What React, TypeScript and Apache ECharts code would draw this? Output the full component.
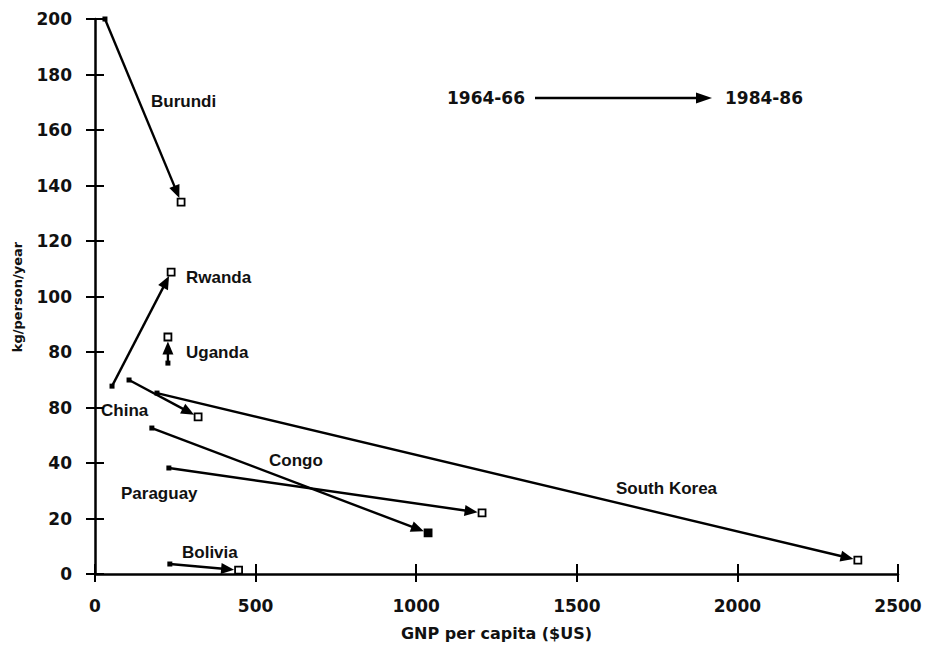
import React, { useEffect, useRef } from "react";
import * as echarts from "echarts";

// ---- data ----
const countries = ["Burundi", "Rwanda", "Uganda", "China", "South Korea", "Congo", "Paraguay", "Bolivia"];
const gnp1964 = [31, 53, 227, 106, 193, 177, 230, 233];
const kg1964 = [200, 67.7, 76, 69.9, 65.2, 52.6, 38.2, 3.6];
const gnp1984 = [268, 237, 227, 321, 2375, 1037, 1205, 447];
const kg1984 = [134, 108.8, 85.4, 56.6, 5, 14.8, 22, 1.4];

const xTickLabels = ["0", "500", "1000", "1500", "2000", "2500"];
const yTickValues = [0, 20, 40, 60, 80, 100, 120, 140, 160, 180, 200];
const yTickLabels = ["0", "20", "40", "80", "80", "100", "120", "140", "160", "180", "200"];

const periodFrom = "1964-66";
const periodTo = "1984-86";
const xName = "GNP per capita ($US)";
const yName = "kg/person/year";

// end markers that appear inked-in on the reference
const filledEnd = ["Congo"];

// label layout (pixels: left edge, vertical centre)
const labelLayout: Record<string, [number, number]> = {
  Burundi: [151, 101],
  Rwanda: [186, 277],
  Uganda: [186, 352],
  China: [101, 410],
  "South Korea": [616, 488],
  Congo: [269, 460],
  Paraguay: [121, 493],
  Bolivia: [182, 552],
};

const tickFont = "'DejaVu Sans', sans-serif";
const labelFont = "'Liberation Sans', Arial, sans-serif";

export default function App() {
  const ref = useRef<HTMLDivElement>(null);
  useEffect(() => {
    if (!ref.current) return;
    const chart = echarts.init(ref.current, null, { renderer: "svg" });
    const arrowData = countries.map((c, i) => [gnp1964[i], kg1964[i], gnp1984[i], kg1984[i], c]);

    const yLabelMap: Record<number, string> = {};
    yTickValues.forEach((v, i) => (yLabelMap[v] = yTickLabels[i]));

    const baseX = { type: "value", min: 0, max: 2500, interval: 500, position: "bottom" };
    const baseY = { type: "value", min: 0, max: 200, interval: 20, position: "left" };

    const option: any = {
      animation: false,
      backgroundColor: "#ffffff",
      grid: { left: 95, right: 30, top: 19, bottom: 73 },
      xAxis: [
        {
          ...baseX,
          name: xName,
          nameLocation: "middle",
          nameGap: 51,
          nameTextStyle: { color: "#111", fontFamily: tickFont, fontWeight: "bold", fontSize: 16 },
          axisLine: { show: true, lineStyle: { color: "#000", width: 2.5 } },
          axisTick: { show: true, length: 8, lineStyle: { color: "#000", width: 2 } },
          axisLabel: {
            margin: 23,
            color: "#111",
            fontFamily: tickFont,
            fontWeight: "bold",
            fontSize: 17,
            formatter: (v: number) => xTickLabels[Math.round(v / 500)] ?? "",
          },
          splitLine: { show: false },
        },
        {
          ...baseX,
          axisLine: { show: false },
          axisTick: { show: true, inside: true, length: 10, lineStyle: { color: "#000", width: 2 } },
          axisLabel: { show: false },
          splitLine: { show: false },
        },
      ],
      yAxis: [
        {
          ...baseY,
          axisLine: { show: true, lineStyle: { color: "#000", width: 2.5 } },
          axisTick: { show: true, length: 9, lineStyle: { color: "#000", width: 2 } },
          axisLabel: {
            margin: 23,
            color: "#111",
            fontFamily: tickFont,
            fontWeight: "bold",
            fontSize: 17,
            formatter: (v: number) => yLabelMap[v] ?? "",
          },
          splitLine: { show: false },
        },
        {
          ...baseY,
          axisLine: { show: false },
          axisTick: { show: true, inside: true, length: 9, lineStyle: { color: "#000", width: 2 } },
          axisLabel: { show: false },
          splitLine: { show: false },
        },
      ],
      series: [
        {
          type: "custom",
          name: "change",
          xAxisIndex: 0,
          yAxisIndex: 0,
          data: arrowData,
          encode: { x: [0, 2], y: [1, 3] },
          clip: false,
          renderItem: (params: any, api: any) => {
            const name = countries[params.dataIndex];
            const p0 = api.coord([api.value(0), api.value(1)]);
            const p1 = api.coord([api.value(2), api.value(3)]);
            const dx = p1[0] - p0[0];
            const dy = p1[1] - p0[1];
            const len = Math.hypot(dx, dy) || 1;
            const ux = dx / len;
            const uy = dy / len;
            const back = 4.5;
            const tip = [p1[0] - ux * back, p1[1] - uy * back];
            const headLen = 13;
            const headW = 5.5;
            const base = [tip[0] - ux * headLen, tip[1] - uy * headLen];
            const nx = -uy;
            const ny = ux;
            const filled = filledEnd.indexOf(name) >= 0;
            return {
              type: "group",
              children: [
                {
                  type: "line",
                  shape: { x1: p0[0], y1: p0[1], x2: base[0] + ux * 2, y2: base[1] + uy * 2 },
                  style: { stroke: "#000", lineWidth: 2.4 },
                },
                {
                  type: "polygon",
                  shape: {
                    points: [
                      tip,
                      [base[0] + nx * headW, base[1] + ny * headW],
                      [base[0] - nx * headW, base[1] - ny * headW],
                    ],
                  },
                  style: { fill: "#000" },
                },
                {
                  type: "rect",
                  shape: { x: p0[0] - 2.5, y: p0[1] - 2.5, width: 5, height: 5 },
                  style: { fill: "#000" },
                },
                {
                  type: "rect",
                  shape: { x: p1[0] - 3.5, y: p1[1] - 3.5, width: 7, height: 7 },
                  style: { fill: filled ? "#000" : "#fff", stroke: "#000", lineWidth: 1.8 },
                },
              ],
            };
          },
        },
      ],
      graphic: [
        ...countries.map((c) => ({
          type: "text",
          x: labelLayout[c][0],
          y: labelLayout[c][1],
          style: {
            text: c,
            fill: "#111",
            font: `bold 17px ${labelFont}`,
            textAlign: "left",
            textVerticalAlign: "middle",
          },
        })),
        {
          type: "text",
          x: 17,
          y: 297,
          rotation: Math.PI / 2,
          style: {
            text: yName,
            fill: "#111",
            font: `bold 13px ${tickFont}`,
            textAlign: "center",
            textVerticalAlign: "middle",
          },
        },
        {
          type: "text",
          x: 447,
          y: 98,
          style: {
            text: periodFrom,
            fill: "#111",
            font: `bold 17px ${tickFont}`,
            textAlign: "left",
            textVerticalAlign: "middle",
          },
        },
        {
          type: "line",
          shape: { x1: 535, y1: 98, x2: 700, y2: 98 },
          style: { stroke: "#000", lineWidth: 2.4 },
        },
        {
          type: "polygon",
          shape: { points: [[712, 98], [696, 92.5], [696, 103.5]] },
          style: { fill: "#000" },
        },
        {
          type: "text",
          x: 725,
          y: 98,
          style: {
            text: periodTo,
            fill: "#111",
            font: `bold 17px ${tickFont}`,
            textAlign: "left",
            textVerticalAlign: "middle",
          },
        },
      ],
    };
    chart.setOption(option);
    return () => chart.dispose();
  }, []);
  return <div ref={ref} style={{ width: 928, height: 647, position: "absolute", left: 0, top: 0, background: "#fff" }} />;
}
